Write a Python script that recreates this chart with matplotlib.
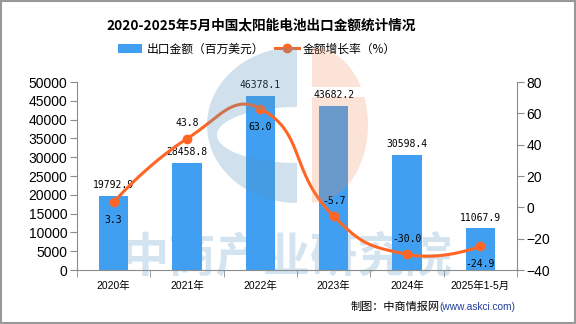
import numpy as np
import matplotlib
matplotlib.use("Agg")
import matplotlib.pyplot as plt
from matplotlib.patches import Patch, Polygon, Rectangle
from matplotlib.lines import Line2D

plt.rcParams['font.family'] = ['Noto Sans CJK SC', 'DejaVu Sans']

# ---- data ----
categories = ["2020年", "2021年", "2022年", "2023年", "2024年", "2025年1-5月"]
export_value = [19792.9, 28458.8, 46378.1, 43682.2, 30598.4, 11067.9]
growth_rate = [3.3, 43.8, 63.0, -5.7, -30.0, -24.9]
bar_name = "出口金额（百万美元）"
line_name = "金额增长率（%）"
title = "2020-2025年5月中国太阳能电池出口金额统计情况"
source_a = "制图：中商情报网"
source_b = "(www.askci.com)"
watermark = "中商产业研究院"
left_ticks = list(range(0, 50001, 5000))
right_ticks = list(range(-40, 81, 20))

# style
BAR_C = "#409FF0"
LINE_C = "#FF6625"
AX_C = "#8C8C8C"
NUM_FONT = ['DejaVu Sans Mono', 'Noto Sans CJK SC']
TICK_FONT = ['Liberation Sans', 'Noto Sans CJK SC']
growth_label_dy = [-13, 11, -13, 11, 11, -13]  # label offsets in points (positive = above)

W, H = 576, 324
fig = plt.figure(figsize=(W / 100, H / 100), dpi=100)
fig.patch.set_facecolor("white")

L, R, T, B = 77, 517, 82, 270
ax = fig.add_axes([L / W, 1 - B / H, (R - L) / W, (B - T) / H])
ax2 = ax.twinx()
ax.patch.set_visible(False)
ax2.patch.set_visible(False)

# watermark text (behind)
fig.text(287 / W, 1 - 257 / H, watermark, fontsize=34, fontweight='bold',
         color='#D3E4F0', ha='center', va='center', zorder=-5)

x = np.arange(len(categories))
ax.bar(x, export_value, width=0.4, color=BAR_C, zorder=2)
ax.set_xlim(-0.5, len(categories) - 0.5)
ax.set_ylim(0, 50000)
ax.set_yticks(left_ticks)
ax2.set_ylim(-40, 80)
ax2.set_yticks(right_ticks)

for xi, v in zip(x, export_value):
    ax.annotate(f"{v:.1f}", (xi, v), xytext=(0, 4), textcoords='offset points',
                ha='center', va='bottom', fontsize=7, family=NUM_FONT, color='black')

# smooth line (echarts-like bezier), computed in pixel-like space
px_x = (R - L) / len(categories)
px_y = (B - T) / 120.0
P = np.column_stack([x * px_x, np.array(growth_rate) * px_y])
n = len(P)
cps_in = P.copy()
cps_out = P.copy()
smooth = 0.5
for i in range(1, n - 1):
    v = P[i + 1] - P[i - 1]
    l0 = np.hypot(*(P[i] - P[i - 1]))
    l1 = np.hypot(*(P[i + 1] - P[i]))
    r = l1 / (l0 + l1)
    cps_out[i] = P[i] + v * smooth * r
    cps_in[i] = P[i] - v * smooth * (1 - r)
curve = []
t = np.linspace(0, 1, 60)[:, None]
for i in range(n - 1):
    p0, c1, c2, p3 = P[i], cps_out[i], cps_in[i + 1], P[i + 1]
    seg = ((1 - t) ** 3) * p0 + 3 * ((1 - t) ** 2) * t * c1 + 3 * (1 - t) * t ** 2 * c2 + t ** 3 * p3
    curve.append(seg)
curve = np.vstack(curve)
ax2.plot(curve[:, 0] / px_x, curve[:, 1] / px_y, color=LINE_C, lw=2.2, zorder=3,
         solid_capstyle='round')
ax2.plot(x, growth_rate, 'o', color=LINE_C, ms=6, zorder=4)
for xi, v, dy in zip(x, growth_rate, growth_label_dy):
    ax2.annotate(f"{v:.1f}", (xi, v), xytext=(0, dy), textcoords='offset points',
                 ha='center', va='center', fontsize=7, family=NUM_FONT, color='black')

# axes styling
for a in (ax, ax2):
    for s in a.spines.values():
        s.set_visible(False)
ax.spines['left'].set_visible(True)
ax.spines['left'].set_color(AX_C)
ax.spines['bottom'].set_visible(True)
ax.spines['bottom'].set_color(AX_C)
ax2.spines['right'].set_visible(True)
ax2.spines['right'].set_color(AX_C)

ax.set_xticks(x)
ax.set_xticklabels(categories, fontsize=7.5, family=TICK_FONT)
ax.set_xticks(np.arange(-0.5, len(categories), 1), minor=True)
ax.tick_params(axis='x', which='major', length=0, pad=8)
ax.tick_params(axis='x', which='minor', length=5, color=AX_C)
ax.tick_params(axis='y', length=5, color=AX_C, pad=2, labelsize=10)
ax2.tick_params(axis='y', length=5, color=AX_C, pad=2, labelsize=10)
for lab in ax.get_yticklabels() + ax2.get_yticklabels():
    lab.set_family(TICK_FONT)

# title / legend
fig.text(261.5 / W, 1 - 25 / H, title, fontsize=9.8, fontweight='bold',
         ha='center', va='center')
handles = [Patch(facecolor=BAR_C, edgecolor='none', label=bar_name),
           Line2D([0], [0], color=LINE_C, lw=2.2, marker='o', ms=6, label=line_name)]
fig.legend(handles=handles, loc='center', bbox_to_anchor=(257 / W, 1 - 49 / H), ncol=2,
           frameon=False, fontsize=8.5, handlelength=2.05, handletextpad=0.35,
           columnspacing=0.9, borderpad=0)

fig.text(351 / W, 1 - 307 / H, source_a, fontsize=8, ha='left', va='center')
fig.text(439 / W, 1 - 307 / H, source_b, fontsize=7.3, ha='left', va='center',
         color='#203F9A', family=['Liberation Sans Narrow', 'Liberation Sans'])

# logo overlay (semi-transparent)
ov = fig.add_axes([0, 0, 1, 1], zorder=10)
ov.set_xlim(0, W)
ov.set_ylim(H, 0)
ov.axis('off')
ov.patch.set_visible(False)

def ell(cx, cy, rx, ry, a0, a1, num=60):
    tt = np.radians(np.linspace(a0, a1, num))
    return np.column_stack([cx + rx * np.cos(tt), cy + ry * np.sin(tt)])

outer = ell(297, 125, 90, 78, 90, 270)
inner = ell(297, 135, 80, 28, 270, 90)
cshape = np.vstack([outer, inner])
ov.add_patch(Polygon(cshape, closed=True, facecolor=(0.35, 0.59, 0.75), alpha=0.28,
                     edgecolor='none'))

def orange_piece(y0, y1, cx=312, cy=125, rx=56, ry=78):
    ys = np.linspace(y0, y1, 40)
    xs = cx + rx * np.sqrt(np.clip(1 - ((ys - cy) / ry) ** 2, 0, 1))
    pts = np.column_stack([xs, ys])
    return np.vstack([[cx, y0], pts, [cx, y1]])

for y0, y1 in [(47, 87), (97, 203)]:
    ov.add_patch(Polygon(orange_piece(y0, y1), closed=True, facecolor=(0.94, 0.55, 0.35),
                         alpha=0.24, edgecolor='none'))

# border
ov.add_patch(Rectangle((0.5, 0.5), W - 1.5, H - 1.5, fill=False, edgecolor='#999999', lw=1.5))

fig.savefig("out.png", dpi=100)
